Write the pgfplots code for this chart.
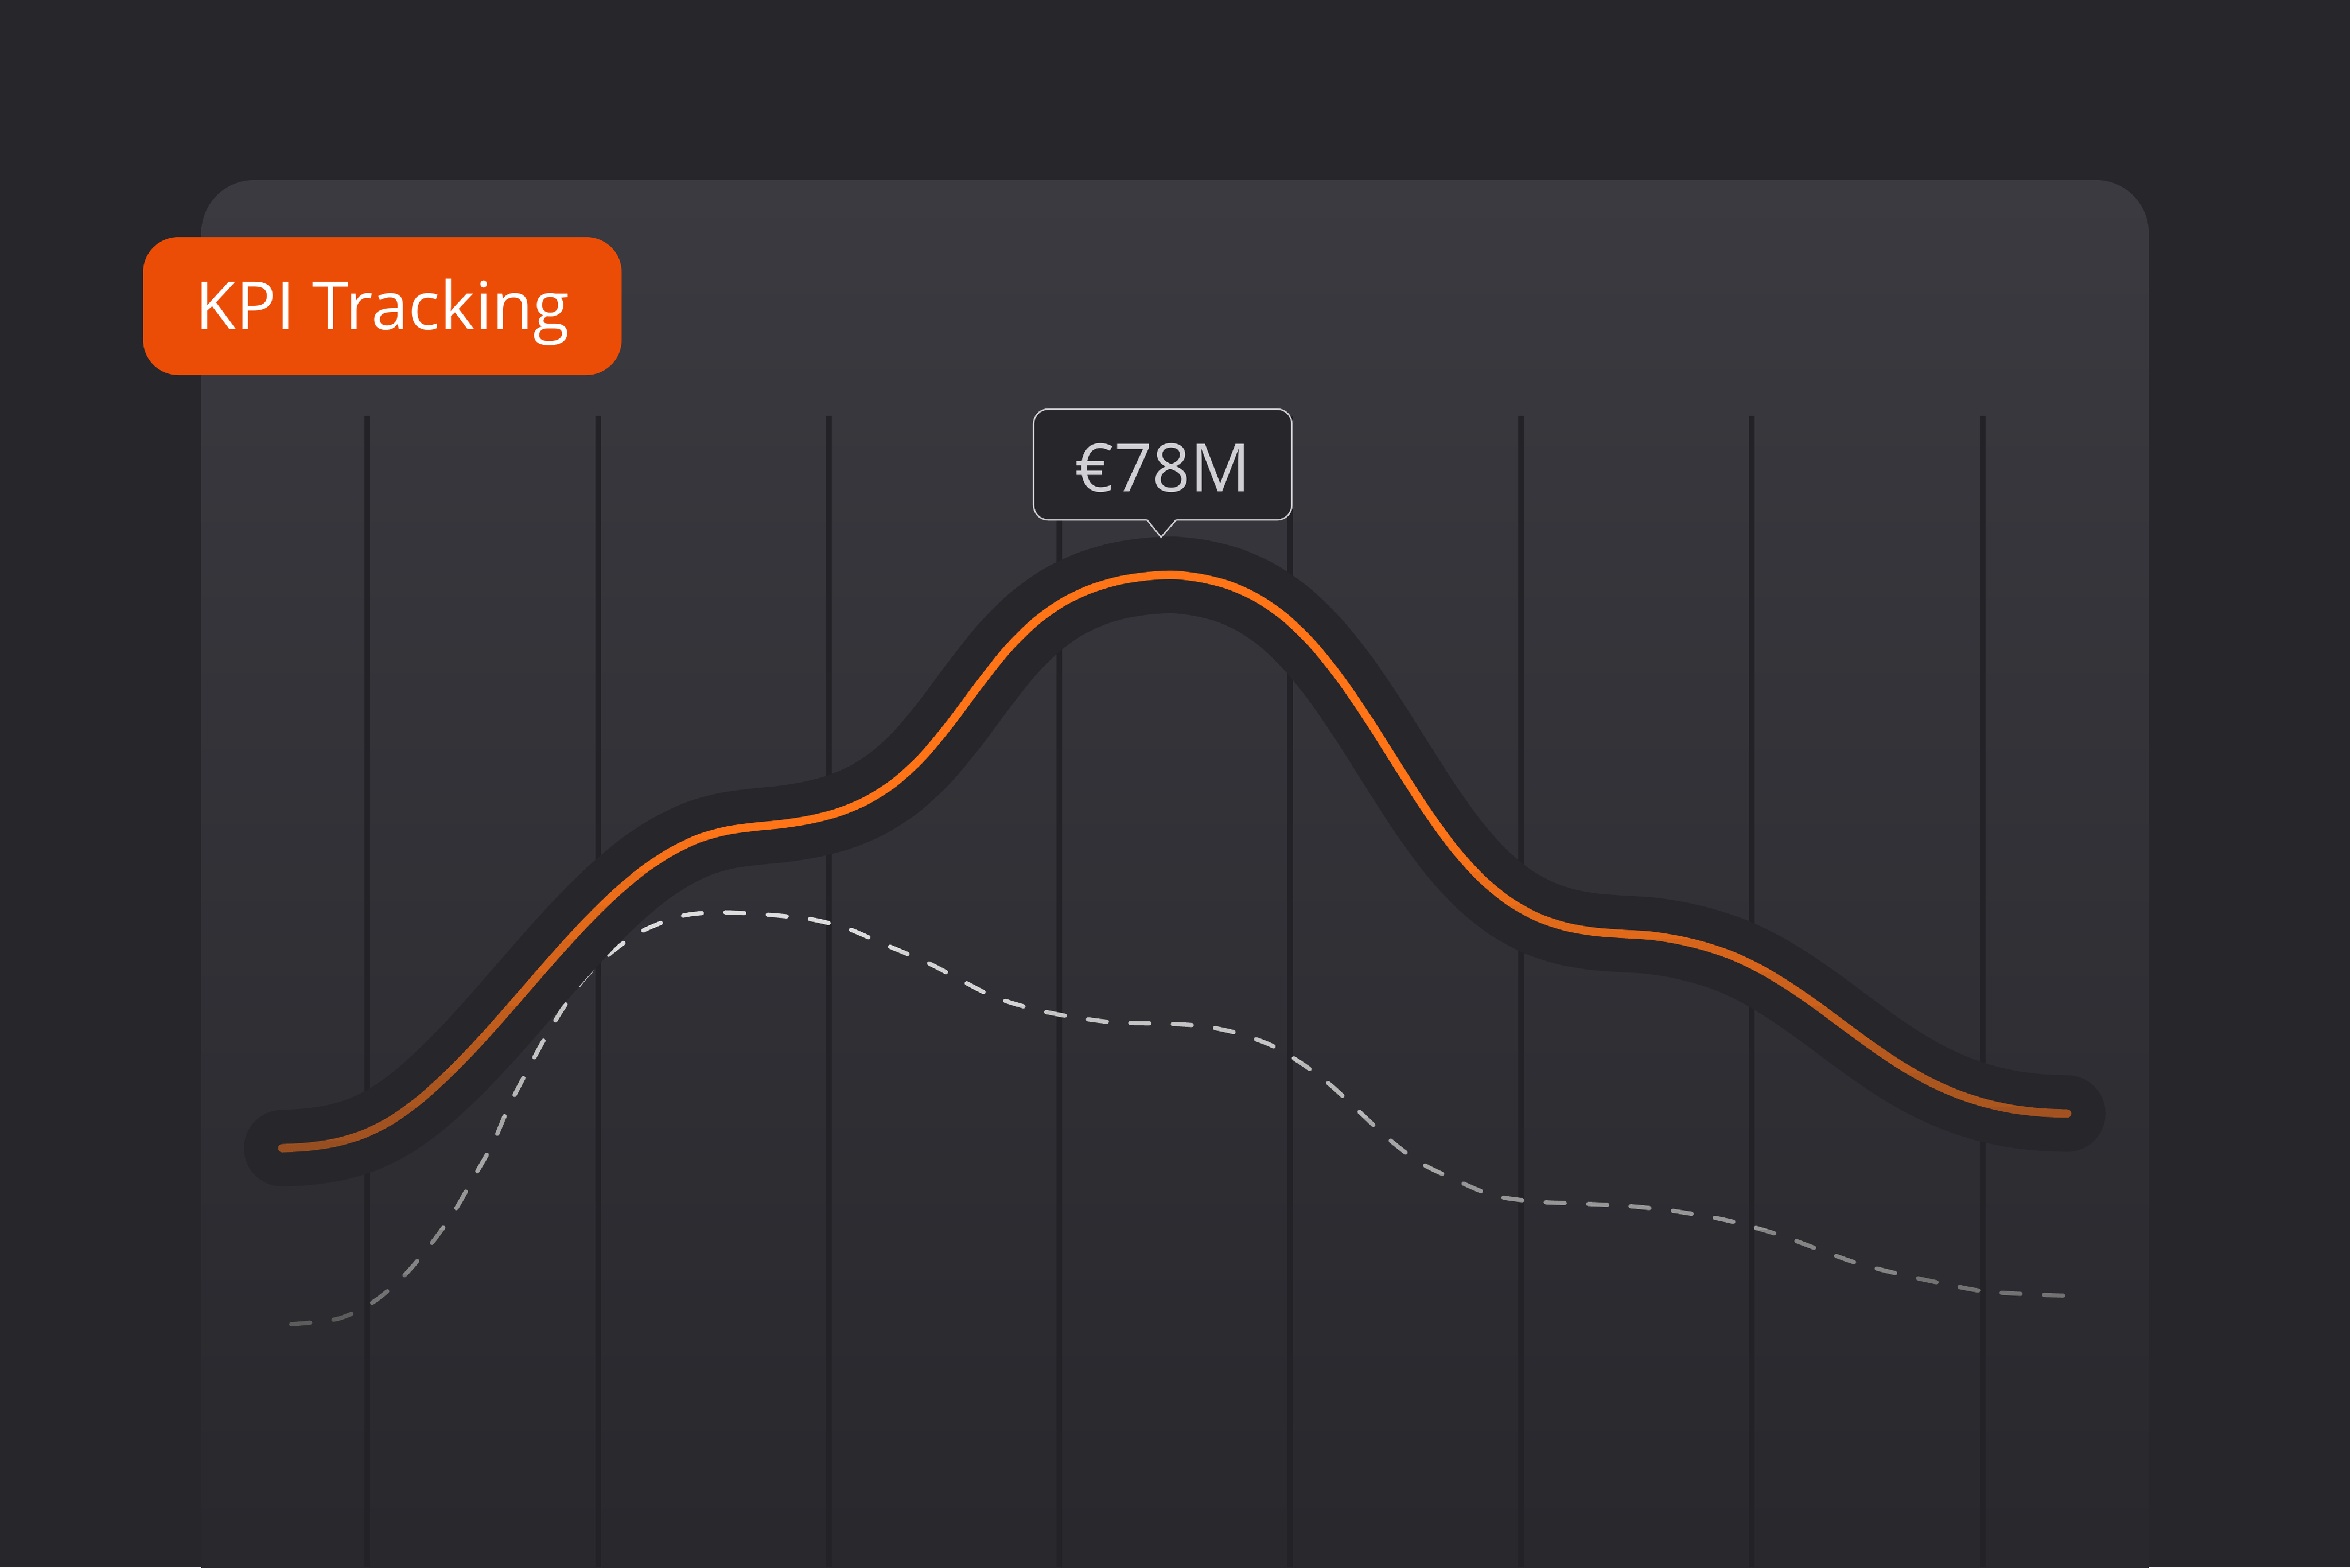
\documentclass[border=0pt]{standalone}
\usepackage{fontspec}
\setmainfont{Open Sans}
\usepackage{pgfplots}
\pgfplotsset{compat=1.18}
\usepackage{pgfplotstable}

\definecolor{bgC}{HTML}{27262B}
\definecolor{panelTop}{HTML}{3B3A40}
\definecolor{panelMid}{HTML}{36353C}
\definecolor{panelBot}{HTML}{28272C}
\definecolor{gridC}{HTML}{232227}
\definecolor{orangeC}{HTML}{FF7417}
\definecolor{labelC}{HTML}{EC4D06}
\definecolor{tipStroke}{HTML}{CDCDD1}
\definecolor{tipText}{HTML}{D0D0D4}

% main KPI curve (pixel coordinates, y downwards)
\pgfplotstableread{
x y
505 2054
550 2051.5
600 2044
650 2029
700 2004
750 1968
800 1923
850 1872
900 1816.5
950 1759
1000 1702
1050 1648
1100 1599
1150 1557
1200 1524
1250 1500
1300 1486
1350 1479
1400 1474
1450 1466
1500 1453
1550 1432
1600 1400
1650 1354
1700 1294
1750 1227
1800 1164
1850 1114
1900 1078
1950 1054
2000 1039
2050 1031
2100 1028.5
2150 1034.5
2200 1047.5
2250 1070.5
2300 1105.5
2350 1154.5
2400 1217
2450 1290.5
2500 1369.5
2550 1447
2600 1516
2650 1571.5
2700 1612.5
2750 1640.5
2800 1657.5
2850 1666.5
2900 1670.5
2950 1673.5
3000 1681
3050 1693
3100 1710
3150 1734
3200 1764
3250 1798.5
3300 1835.5
3350 1872
3400 1905.5
3450 1934
3500 1956.5
3550 1973
3600 1984
3650 1990
3698 1992
}\kpi

% dashed comparison curve
\pgfplotstableread{
x y
521 2369
605 2359
668 2329
721 2284
766 2232
811 2170
847 2107
882 2045
909 1982
936 1929
972 1862
1007 1804
1047 1748
1097 1701
1150 1665
1222 1638
1293 1632
1382 1637
1454 1645
1516 1661
1579 1688
1659 1722
1722 1755
1780 1784
1852 1806
1923 1820
1995 1829
2075 1831
2147 1835
2209 1847
2272 1869
2325 1900
2379 1940
2432 1989
2486 2039
2539 2079
2602 2110
2673 2139
2754 2150
2825 2153
2906 2157
2977 2164
3048 2175
3106 2187
3183 2209
3253 2235
3323 2260
3397 2279
3470 2295
3558 2311
3696 2318
}\prev

\pgfplotsset{
  orangeline/.style={smooth, tension=0.5, no marks, line width=3.75pt, line cap=round, color=orangeC!#1!bgC},
  dashline/.style={smooth, tension=0.5, no marks, line width=1.9pt, line cap=round,
    dash pattern=on 8.5pt off 10.5pt, color={rgb,255:red,#1;green,#1;blue,#1}},
}

% one horizontal band of a curve, clipped to y in [#1,#2]
\newcommand{\band}[4]{%
  \begin{scope}
    \clip (axis cs:0,#1) rectangle (axis cs:4204,#2);
    \addplot[#3] table[x=x,y=y] {#4};
  \end{scope}}

\begin{document}
\begin{tikzpicture}
\begin{axis}[
  width=1051pt, height=701pt, scale only axis,
  xmin=0, xmax=4204, ymin=0, ymax=2804, y dir=reverse,
  hide axis, clip=false, unbounded coords=jump,
]
\fill[bgC] (axis cs:0,0) rectangle (axis cs:4204,2804);
\shade[top color=panelTop, middle color=panelMid, bottom color=panelBot, rounded corners=23.75pt]
  (axis cs:360,2900) -- (axis cs:360,322) -- (axis cs:3844,322) -- (axis cs:3844,2900) -- cycle;

% vertical grid lines
\addplot[no marks, gridC, line width=2.5pt] coordinates {
  (657,744) (657,2804) (nan,nan)
  (1070,744) (1070,2804) (nan,nan)
  (1483,744) (1483,2804) (nan,nan)
  (1895,744) (1895,2804) (nan,nan)
  (2308,744) (2308,2804) (nan,nan)
  (2721,744) (2721,2804) (nan,nan)
  (3134,744) (3134,2804) (nan,nan)
  (3547,744) (3547,2804)
};

% dashed series, fading towards the bottom
\band{0}{1700}{dashline=220}{\prev}
\band{1700}{1800}{dashline=210}{\prev}
\band{1800}{1900}{dashline=196}{\prev}
\band{1900}{2000}{dashline=182}{\prev}
\band{2000}{2100}{dashline=166}{\prev}
\band{2100}{2200}{dashline=150}{\prev}
\band{2200}{2280}{dashline=132}{\prev}
\band{2280}{2340}{dashline=114}{\prev}
\band{2340}{2804}{dashline=92}{\prev}

% dark halo under the main line
\addplot[smooth, tension=0.5, no marks, bgC, line width=34.25pt, line cap=round] table[x=x,y=y] {\kpi};

% main line, fading towards the bottom
\band{0}{1500}{orangeline=100}{\kpi}
\band{1500}{1560}{orangeline=96}{\kpi}
\band{1560}{1620}{orangeline=91}{\kpi}
\band{1620}{1680}{orangeline=86}{\kpi}
\band{1680}{1740}{orangeline=81}{\kpi}
\band{1740}{1800}{orangeline=76}{\kpi}
\band{1800}{1860}{orangeline=71}{\kpi}
\band{1860}{1920}{orangeline=66}{\kpi}
\band{1920}{1980}{orangeline=61}{\kpi}
\band{1980}{2040}{orangeline=57}{\kpi}
\band{2040}{2804}{orangeline=52}{\kpi}

% tooltip
\draw[fill=bgC, draw=tipStroke, line width=0.65pt, rounded corners=6.5pt]
  (axis cs:1849,732) rectangle (axis cs:2311,930);
\fill[bgC] (axis cs:2049,926) -- (axis cs:2107,926) -- (axis cs:2077,961) -- cycle;
\draw[tipStroke, line width=0.65pt] (axis cs:2052,930) -- (axis cs:2077,961) -- (axis cs:2104,930);
\node[anchor=base, inner sep=0pt, text=tipText, font=\fontsize{29.8pt}{36pt}\selectfont]
  at (axis cs:2080,879) {€78M};

% title badge
\fill[labelC, rounded corners=15.75pt] (axis cs:256,424) rectangle (axis cs:1112,671);
\node[anchor=base, inner sep=0pt, text=white, font=\fontsize{29.8pt}{36pt}\selectfont]
  at (axis cs:684,589) {KPI Tracking};
\end{axis}
\pgfresetboundingbox
\path (current axis.south west) rectangle (current axis.north east);
\end{tikzpicture}
\end{document}
